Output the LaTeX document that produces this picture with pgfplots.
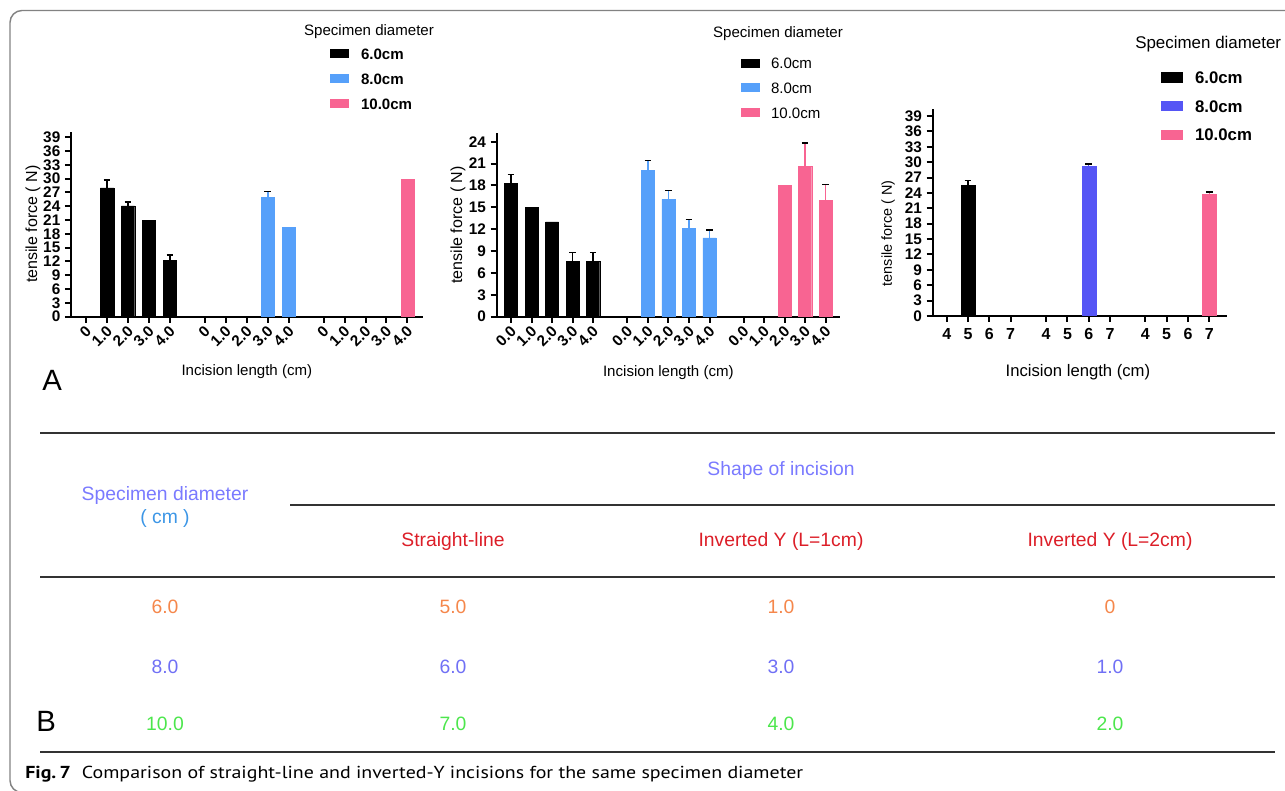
\documentclass[border=0pt]{standalone}
\usepackage{fontspec}
\setmainfont{Liberation Sans}
\newfontfamily\capfont{PT Sans}
\usepackage{pgfplots}
\pgfplotsset{compat=1.18}
\usepackage{pgfplotstable}

\definecolor{cblue}{RGB}{86,160,250}
\definecolor{cpink}{RGB}{248,100,146}
\definecolor{cviolet}{RGB}{85,85,245}
\definecolor{tpurple}{RGB}{122,122,255}
\definecolor{tblue}{RGB}{60,150,230}
\definecolor{tred}{RGB}{220,30,40}
\definecolor{torange}{RGB}{245,135,75}
\definecolor{tviolet}{RGB}{112,112,245}
\definecolor{tgreen}{RGB}{76,230,76}
\definecolor{framecol}{RGB}{130,130,130}
\definecolor{rulecol}{RGB}{50,50,50}

% Panel A, chart 1 (straight-line); *n tables: bars without error bar
\pgfplotstableread{
x y e
1 28.0 1.7
2 24.1 0.8
4 12.2 1.2
}\Aa
\pgfplotstableread{
x y
3 21.0
}\Aan
\pgfplotstableread{
x y e
8.67 26.0 1.2
}\Ab
\pgfplotstableread{
x y
9.67 19.4
}\Abn
\pgfplotstableread{
x y
15.33 29.9
}\Acn
% chart 2 (inverted Y, L=1cm)
\pgfplotstableread{
x y e
0 18.3 1.2
3 7.55 1.25
4 7.55 1.25
}\Ba
\pgfplotstableread{
x y
1 15.0
2 13.0
}\Ban
\pgfplotstableread{
x y e
6.67 20.1 1.3
7.67 16.1 1.2
8.67 12.1 1.2
9.67 10.8 1.1
}\Bb
\pgfplotstableread{
x y e
14.33 20.6 3.2
15.33 16.0 2.1
}\Bc
\pgfplotstableread{
x y
13.33 18.0
}\Bcn
% chart 3 (inverted Y, L=2cm)
\pgfplotstableread{
x y e
1 25.5 0.9
}\Ca
\pgfplotstableread{
x y e
6.67 29.2 0.4
}\Cb
\pgfplotstableread{
x y e
12.33 23.8 0.4
}\Cc

\pgfplotsset{
  gp/.style={
    scale only axis, ymin=0,
    axis lines=left,
    axis line style={line width=1.5pt,-},
    tick style={line width=1.5pt,black},
    tick align=outside, major tick length=4.5pt,
    ybar, bar width=0.64, bar shift=0pt,
    /pgf/number format/assume math mode=true,
    yticklabel style={font=\bfseries\fontsize{11.5}{12}\selectfont},
    xticklabel style={font=\bfseries\fontsize{11.5}{12}\selectfont},
    label style={font=\fontsize{12}{14}\selectfont},
    legend cell align=left,
    legend style={draw=none, fill=none, inner sep=0pt, outer sep=0pt, anchor=north west,
      nodes={inner sep=0pt, text height=8pt, text depth=0pt}},
  },
  eb/.style={error bars/y dir=plus, error bars/y explicit,
    error bars/error bar style={line width=1.1pt},
    error bars/error mark options={line width=1.1pt, mark size=2.5pt, rotate=90}},
  sw/.style={legend image code/.code={\fill[##1,draw=none] (0pt,-3.4pt) rectangle (14.25pt,3.4pt);}},
  sw3/.style={legend image code/.code={\fill[##1,draw=none] (0pt,-4pt) rectangle (16.3pt,4pt);}},
}

\begin{document}
\begin{tikzpicture}
\begin{scope}[x=0.75pt,y=-0.75pt]
\useasboundingbox (0,0) rectangle (1285,791);
\clip (0,0) rectangle (1285,791);
\coordinate (o1) at (71,316.7);
\coordinate (o2) at (496.7,316.7);
\coordinate (o3) at (932.7,316);
% frame
\draw[framecol, line width=1.1pt, rounded corners=9pt] (1300,10.5) -- (10,10.5) -- (10,792.5) -- (120,792.5);
% legend titles
\node[font=\fontsize{11.3}{13}\selectfont] at (369,32) {Specimen diameter};
\node[font=\fontsize{11.3}{13}\selectfont] at (778,34) {Specimen diameter};
\node[font=\fontsize{12.7}{14}\selectfont, anchor=west, inner sep=0pt] at (1135,44.5) {Specimen diameter};
% panel letters
\node[anchor=base west, inner sep=0pt, font=\fontsize{22}{24}\selectfont] at (42,391) {A};
\node[anchor=base west, inner sep=0pt, font=\fontsize{22}{24}\selectfont] at (36,731) {B};
% table B
\draw[rulecol, line width=1.2pt] (40,433) -- (1275,433);
\draw[rulecol, line width=1.4pt] (290,505) -- (1275,505);
\draw[rulecol, line width=2.2pt] (40,577) -- (1275,577);
\draw[rulecol, line width=1.2pt] (40,752) -- (1275,752);
\begin{scope}[every node/.style={anchor=base, inner sep=0pt, font=\fontsize{14.5}{17}\selectfont}]
\node[text=tpurple] at (781,475) {Shape of incision};
\node[text=tpurple] at (165,500) {Specimen diameter};
\node[text=tblue] at (165,523) {( cm )};
\node[text=tred] at (453,546) {Straight-line};
\node[text=tred] at (781,546) {Inverted Y (L=1cm)};
\node[text=tred] at (1110,546) {Inverted Y (L=2cm)};
\node[text=torange] at (165,613) {6.0};
\node[text=torange] at (453,613) {5.0};
\node[text=torange] at (781,613) {1.0};
\node[text=torange] at (1110,613) {0};
\node[text=tviolet] at (165,673) {8.0};
\node[text=tviolet] at (453,673) {6.0};
\node[text=tviolet] at (781,673) {3.0};
\node[text=tviolet] at (1110,673) {1.0};
\node[text=tgreen] at (165,730) {10.0};
\node[text=tgreen] at (453,730) {7.0};
\node[text=tgreen] at (781,730) {4.0};
\node[text=tgreen] at (1110,730) {2.0};
\end{scope}
% caption
\node[anchor=base west, inner sep=0pt] at (25,778) {\scalebox{1.15}[1]{\capfont\fontsize{13}{15}\selectfont\textbf{Fig.\,7}\hspace{0.55em}Comparison of straight-line and inverted-Y incisions for the same specimen diameter}};
\end{scope}

% ---------- chart 1 ----------
\begin{axis}[gp, sw, at={(o1)}, anchor=south west,
  width=263.8pt, height=138.75pt,
  xmin=-0.72, xmax=16.06, ymax=40.2,
  ytick={0,3,...,39},
  xtick={0,1,2,3,4,5.67,6.67,7.67,8.67,9.67,11.33,12.33,13.33,14.33,15.33},
  xticklabels={0,1.0,2.0,3.0,4.0,0,1.0,2.0,3.0,4.0,0,1.0,2.0,3.0,4.0},
  xticklabel style={rotate=45, anchor=east, xshift=1.5pt, yshift=-4.5pt},
  ylabel={tensile force ( N)}, xlabel={Incision length (cm)},
  ylabel style={at={(axis description cs:-0.108,0.5)}, anchor=center},
  xlabel style={at={(axis description cs:0.5,-0.297)}, anchor=center, font=\fontsize{11.3}{13}\selectfont},
  legend style={at={(axis description cs:0.7364,1.4497)}, row sep=10.75pt, column sep=9pt,
    font=\bfseries\fontsize{11.3}{13}\selectfont},
]
\addplot[eb, fill=black, draw=black, line width=0.3pt] table[x=x,y=y,y error=e] {\Aa};
\addplot[eb, fill=cblue, draw=cblue, line width=0.3pt] table[x=x,y=y,y error=e] {\Ab};
\addplot[fill=cpink, draw=cpink, line width=0.3pt] table[x=x,y=y] {\Acn};
\addplot[forget plot, fill=black, draw=black, line width=0.3pt] table[x=x,y=y] {\Aan};
\addplot[forget plot, fill=cblue, draw=cblue, line width=0.3pt] table[x=x,y=y] {\Abn};
\legend{6.0cm,8.0cm,10.0cm}
\end{axis}

% ---------- chart 2 ----------
\begin{axis}[gp, sw, at={(o2)}, anchor=south west,
  width=257.5pt, height=137.55pt,
  xmin=-0.70, xmax=16.03, ymax=25.15,
  ytick={0,3,...,24},
  xtick={0,1,2,3,4,5.67,6.67,7.67,8.67,9.67,11.33,12.33,13.33,14.33,15.33},
  xticklabels={0.0,1.0,2.0,3.0,4.0,0.0,1.0,2.0,3.0,4.0,0.0,1.0,2.0,3.0,4.0},
  xticklabel style={rotate=45, anchor=east, xshift=1.5pt, yshift=-4.5pt},
  ylabel={tensile force ( N)}, xlabel={Incision length (cm)},
  ylabel style={at={(axis description cs:-0.113,0.5)}, anchor=center},
  xlabel style={at={(axis description cs:0.5,-0.305)}, anchor=center, font=\fontsize{11.3}{13}\selectfont},
  legend style={at={(axis description cs:0.7116,1.4117)}, row sep=10.6pt, column sep=8.25pt,
    font=\fontsize{11.3}{13}\selectfont},
]
\addplot[eb, fill=black, draw=black, line width=0.3pt] table[x=x,y=y,y error=e] {\Ba};
\addplot[eb, fill=cblue, draw=cblue, line width=0.3pt] table[x=x,y=y,y error=e] {\Bb};
\addplot[eb, fill=cpink, draw=cpink, line width=0.3pt] table[x=x,y=y,y error=e] {\Bc};
\addplot[forget plot, fill=black, draw=black, line width=0.3pt] table[x=x,y=y] {\Ban};
\addplot[forget plot, fill=cpink, draw=cpink, line width=0.3pt] table[x=x,y=y] {\Bcn};
\legend{6.0cm,8.0cm,10.0cm}
\end{axis}

% ---------- chart 3 ----------
\begin{axis}[gp, sw3, at={(o3)}, anchor=south west,
  width=220.5pt, height=155.0pt,
  xmin=-0.66, xmax=13.15, ymax=40.3,
  bar width=0.66,
  ytick={0,3,...,39},
  xtick={0,1,2,3,4.67,5.67,6.67,7.67,9.33,10.33,11.33,12.33},
  xticklabels={4,5,6,7,4,5,6,7,4,5,6,7},
  xticklabel style={font=\bfseries\fontsize{12}{13}\selectfont, yshift=-1pt},
  ylabel={tensile force ( N)}, xlabel={Incision length (cm)},
  ylabel style={at={(axis description cs:-0.152,0.40)}, anchor=center, font=\fontsize{10.8}{12}\selectfont},
  xlabel style={at={(axis description cs:0.494,-0.274)}, anchor=center, font=\fontsize{12.5}{14}\selectfont},
  legend style={at={(axis description cs:0.7765,1.1838)}, row sep=12.6pt, column sep=9.2pt,
    font=\bfseries\fontsize{12.6}{14}\selectfont, nodes={text height=9pt}},
]
\addplot[eb, fill=black, draw=black, line width=0.3pt] table[x=x,y=y,y error=e] {\Ca};
\addplot[eb, fill=cviolet, draw=cviolet, line width=0.3pt] table[x=x,y=y,y error=e] {\Cb};
\addplot[eb, fill=cpink, draw=cpink, line width=0.3pt] table[x=x,y=y,y error=e] {\Cc};
\legend{6.0cm,8.0cm,10.0cm}
\end{axis}
\end{tikzpicture}
\end{document}
